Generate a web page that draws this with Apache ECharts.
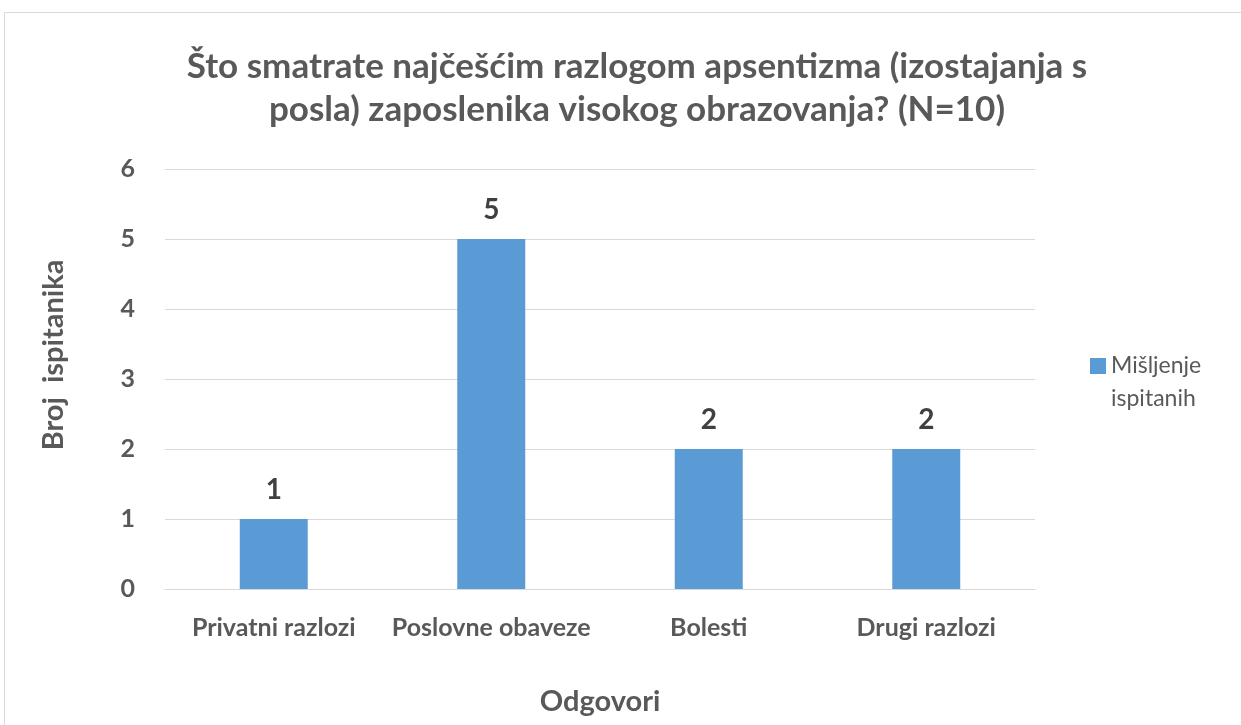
<!DOCTYPE html>
<html>
<head>
<meta charset="utf-8">
<script src="https://cdn.jsdelivr.net/npm/echarts@6/dist/echarts.min.js"></script>
<style>
  html, body { margin: 0; padding: 0; background: #fff; }
  #chart { width: 1241px; height: 725px; }
</style>
</head>
<body>
<div id="chart"></div>
<script>
// podaci
const categories = ['Privatni razlozi', 'Poslovne obaveze', 'Bolesti', 'Drugi razlozi'];
const values = [1, 5, 2, 2];
const seriesName = 'Mišljenje\nispitanih';

const font = 'Lato, "Open Sans", sans-serif';
const grey = '#595959';

const chart = echarts.init(document.getElementById('chart'));

chart.setOption({
  animation: false,
  textStyle: { fontFamily: font },
  graphic: [{
    type: 'rect',
    shape: { x: 4.5, y: 12.5, width: 1250, height: 760 },
    style: { fill: 'none', stroke: '#d9d9d9', lineWidth: 1 }
  }],
  title: {
    text: 'Što smatrate najčešćim razlogom apsentizma (izostajanja s\nposla) zaposlenika visokog obrazovanja? (N=10)',
    left: 632,
    top: 40,
    textAlign: 'center',
    textStyle: {
      fontFamily: font,
      fontSize: 35,
      fontWeight: 'bold',
      color: grey,
      lineHeight: 43
    }
  },
  legend: {
    orient: 'vertical',
    left: 1085,
    top: 344,
    // ikona poravnata s prvim redom teksta
    icon: 'path://M0,0L0.01,0M0,9H16V25H0ZM0,66L0.01,66',
    itemWidth: 16,
    itemHeight: 66,
    textStyle: { fontFamily: font, fontSize: 23, color: grey, lineHeight: 33 },
    data: [seriesName]
  },
  grid: {
    left: 165,
    right: 206,
    top: 169,
    bottom: 136,
    containLabel: false,
    outerBoundsMode: 'none'
  },
  xAxis: {
    type: 'category',
    data: categories,
    name: 'Odgovori',
    nameLocation: 'middle',
    nameGap: 98,
    nameTextStyle: { fontFamily: font, fontSize: 29, fontWeight: 'bold', color: grey },
    axisLine: { lineStyle: { color: '#d9d9d9', width: 1 } },
    axisTick: { show: false },
    axisLabel: {
      fontFamily: font,
      fontSize: 25,
      fontWeight: 'bold',
      color: grey,
      margin: 26,
      interval: 0
    }
  },
  yAxis: {
    type: 'value',
    min: 0,
    max: 6,
    interval: 1,
    name: 'Broj  ispitanika',
    nameLocation: 'middle',
    nameGap: 97,
    nameTextStyle: {
      fontFamily: font,
      fontSize: 29,
      fontWeight: 'bold',
      color: grey,
      padding: [0, 0, 0, 48]
    },
    axisLine: { show: false },
    axisTick: { show: false },
    axisLabel: {
      fontFamily: font,
      fontSize: 25,
      fontWeight: 'bold',
      color: grey,
      margin: 30
    },
    splitLine: { lineStyle: { color: '#d9d9d9', width: 1 } }
  },
  series: [{
    name: seriesName,
    type: 'bar',
    data: values,
    barWidth: 68,
    itemStyle: { color: '#5b9bd5' },
    label: {
      show: true,
      position: 'top',
      distance: 15,
      fontFamily: font,
      fontSize: 28,
      fontWeight: 'bold',
      color: '#404040'
    }
  }]
});

window.addEventListener('resize', () => chart.resize());
</script>
</body>
</html>
